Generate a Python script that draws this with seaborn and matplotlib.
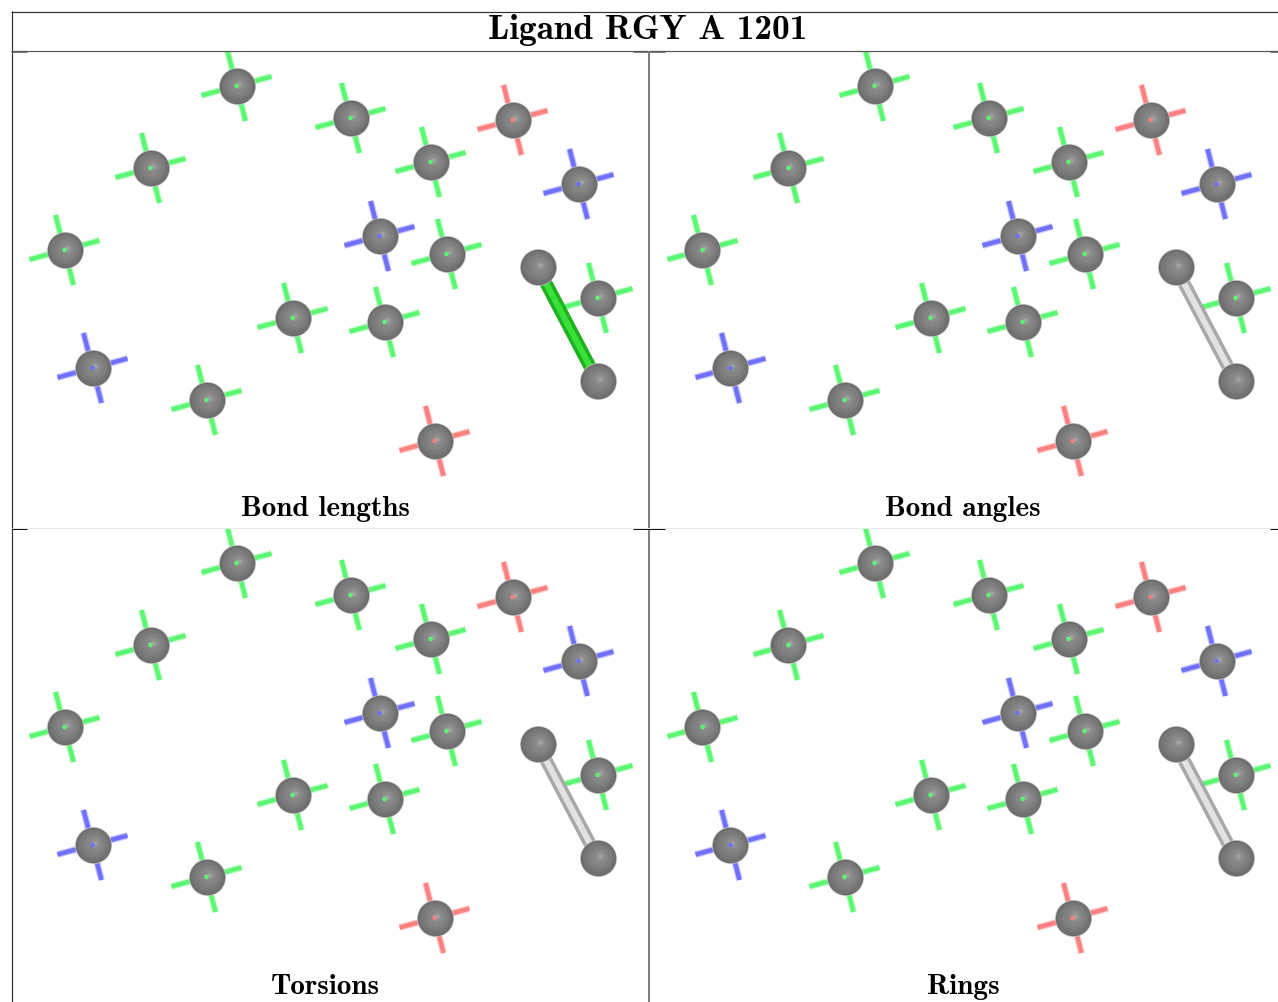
import matplotlib
matplotlib.use("Agg")
import matplotlib.pyplot as plt
from matplotlib.lines import Line2D
import seaborn as sns
import pandas as pd

W, H = 1278, 1002

title = "Ligand RGY A 1201"
panel_names = ["Bond lengths", "Bond angles", "Torsions", "Rings"]
bond_colors = [("#1fb01f", "#38e038"), ("#a8a8a8", "#e2e2e2"), ("#a8a8a8", "#e2e2e2"), ("#a8a8a8", "#e2e2e2")]

# atom positions in pixels from the top left of a panel
green_x = [225, 139, 339, 419, 53, 435, 281, 373, 195, 586]
green_y = [35, 117, 67, 111, 199, 203, 267, 271, 349, 247]
red_x = [501, 423]
red_y = [69, 390]
blue_x = [567, 368, 81]
blue_y = [133, 185, 317]
bond_x = [526, 586]
bond_y = [216, 330]

cross_colors = {"green": "#5cf772", "red": "#fb8080", "blue": "#7070fa"}
arm_a = (35, -9.5)
arm_b = (9, 35)

# dark rim to light middle, (diameter px, colour, x shift, y shift)
sphere_layers = [
    (37, "#c8c8c8", 0, 0),
    (35.5, "#6b6b6b", 0, 0),
    (33, "#717171", 0.3, -0.3),
    (29, "#787878", 0.6, -0.6),
    (24, "#7e7e7e", 1, -1),
    (18, "#858585", 1.5, -1.5),
    (11, "#8d8d8d", 2, -2),
    (5, "#a0a0a0", 2, -2),
]

sns.set_theme(style="white")


def cross_table():
    rows = []
    n = 0
    groups = [("green", green_x, green_y), ("red", red_x, red_y), ("blue", blue_x, blue_y)]
    for name, xs, ys in groups:
        for x, y in zip(xs, ys):
            for dx, dy in (arm_a, arm_b):
                rows.append({"x": x - dx, "y": y - dy, "arm": n, "kind": name})
                rows.append({"x": x + dx, "y": y + dy, "arm": n, "kind": name})
                n += 1
    return pd.DataFrame(rows)


crosses = cross_table()
atoms = pd.DataFrame({"x": green_x + red_x + blue_x,
                      "y": green_y + red_y + blue_y,
                      "kind": ["green"] * len(green_x) + ["red"] * len(red_x) + ["blue"] * len(blue_x)})
all_spheres = pd.DataFrame({"x": list(atoms.x) + bond_x, "y": list(atoms.y) + bond_y})
bond = pd.DataFrame({"x": bond_x, "y": bond_y})


def px_to_pt(v):
    return v * 72 / 100


fig = plt.figure(figsize=(W / 100, H / 100), dpi=100)

lefts = [11.5, 649.5, 11.5, 649.5]
tops = [51, 51, 528, 528]
for i, name in enumerate(panel_names):
    first_col = i % 2 == 0
    w = 637.5 if first_col else W - lefts[i]
    h = 477 if tops[i] == 51 else H - tops[i]
    ax = fig.add_axes([lefts[i] / W, 1 - (tops[i] + h) / H, w / W, h / H])
    ax.set_xlim(0, w)
    ax.set_ylim(h, 0)
    ax.set_axis_off()

    # soft edge first, then the arm itself
    sns.lineplot(data=crosses, x="x", y="y", units="arm", hue="kind", palette=cross_colors,
                 estimator=None, sort=False, legend=False, ax=ax, alpha=0.35,
                 linewidth=px_to_pt(7), solid_capstyle="butt", zorder=1)
    sns.lineplot(data=crosses, x="x", y="y", units="arm", hue="kind", palette=cross_colors,
                 estimator=None, sort=False, legend=False, ax=ax,
                 linewidth=px_to_pt(4.5), solid_capstyle="butt", zorder=2)

    edge, core = bond_colors[i]
    sns.lineplot(data=bond, x="x", y="y", estimator=None, sort=False, ax=ax, color=edge,
                 linewidth=px_to_pt(13), solid_capstyle="butt", zorder=3)
    sns.lineplot(data=bond, x="x", y="y", estimator=None, sort=False, ax=ax, color=core,
                 linewidth=px_to_pt(6), solid_capstyle="butt", zorder=4)

    for k, (dia, col, sx, sy) in enumerate(sphere_layers):
        sns.scatterplot(x=all_spheres.x + sx, y=all_spheres.y + sy, s=px_to_pt(dia) ** 2, color=col,
                        linewidth=0, ax=ax, zorder=5 + k)
    sns.scatterplot(data=atoms, x="x", y="y", hue="kind", palette=cross_colors, s=px_to_pt(4.5) ** 2,
                    linewidth=0, legend=False, ax=ax, zorder=20)
    ax.set_xlabel("")
    ax.set_ylabel("")

    cx = 325 if first_col else 963
    cy = 509 if tops[i] == 51 else 987
    fig.text(cx / W, 1 - cy / H, name, family="cmb10", fontsize=21, color="black",
             ha="center", va="center")

fig.text(648 / W, 1 - 30 / H, title, family="cmb10", fontsize=25.5, color="black",
         ha="center", va="center")


def rule(x0, y0, x1, y1, color, width):
    fig.add_artist(Line2D([x0 / W, x1 / W], [1 - y0 / H, 1 - y1 / H], color=color,
                          linewidth=px_to_pt(width), solid_capstyle="butt"))


rule(11.5, 11, 11.5, H, "#333333", 1.2)
rule(11, 11.5, W, 11.5, "#333333", 1.2)
rule(W - 0.5, 11, W - 0.5, 51, "#333333", 1)
rule(11, 50.5, W, 50.5, "#555555", 1.2)
rule(649, 51, 649, H, "#7f7f7f", 2)
rule(12, 527.5, W, 527.5, "#e8e8e8", 1)
for y, col in ((51.5, "#777777"), (528.5, "#111111")):
    rule(12, y, 27, y, col, 1)
    rule(633, y, 665, y, col, 1)
    rule(1270, y, W, y, col, 1)

fig.savefig("out.png", dpi=100)
